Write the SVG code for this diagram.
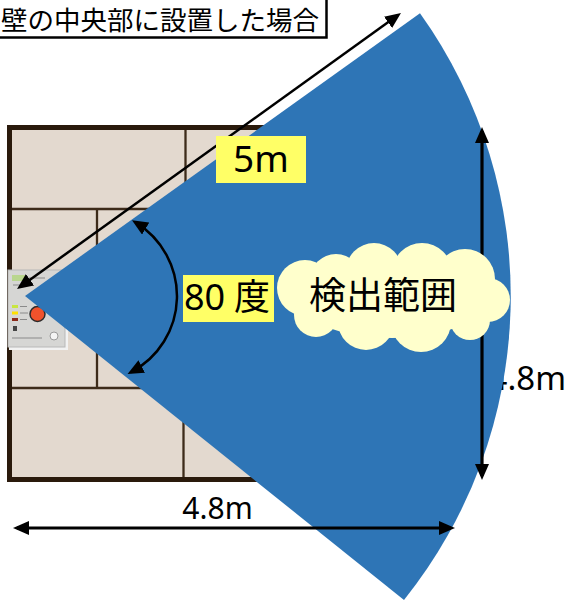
<svg xmlns="http://www.w3.org/2000/svg" width="569" height="600" viewBox="0 0 569 600">
  <defs>
    <style>
      .txt { font-family: "Noto Sans", "Noto Sans CJK JP", sans-serif; fill: #000; }
      .jp { font-family: "Noto Sans CJK JP", "Noto Sans", sans-serif; fill: #000; }
      .tile { stroke: #3d2b1a; stroke-width: 2.3; fill: none; }
      .dim { stroke: #000; stroke-width: 3.2; fill: none; marker-start: url(#ah); marker-end: url(#ah); }
      .thin { stroke: #000; stroke-width: 2.5; fill: none; marker-start: url(#ah); marker-end: url(#ah); }
      .tag { fill: #FFFF66; }
      .cloud { fill: #FFFFCC; }
      .mark { stroke: #8a8a8a; stroke-width: 1; }
    </style>
    <marker id="ah" viewBox="0 0 16 14" markerWidth="16" markerHeight="14" refX="12" refY="7" orient="auto-start-reverse" markerUnits="userSpaceOnUse">
      <path d="M0,0 L16,7 L0,14 z" fill="#000"/>
    </marker>
  </defs>

  <!-- room floor plan -->
  <g id="room">
    <rect x="9.5" y="127.5" width="445" height="352" fill="#E3D9CF" stroke="#2a1a0c" stroke-width="5"/>
    <line class="tile" x1="12" y1="209" x2="452" y2="209"/>
    <line class="tile" x1="185.5" y1="130" x2="185.5" y2="209"/>
    <line class="tile" x1="97" y1="209" x2="97" y2="388"/>
    <line class="tile" x1="12" y1="388" x2="452" y2="388"/>
    <line class="tile" x1="183.5" y1="388" x2="183.5" y2="477"/>
  </g>

  <!-- sensor panel mounted on the wall -->
  <g id="sensor">
    <rect x="9" y="271" width="59" height="79" fill="#f2f2f2"/>
    <rect x="8" y="270" width="57" height="77" fill="#d6d6d4" stroke="#b8b8b8" stroke-width="1"/>
    <rect x="12" y="275" width="13" height="6" fill="#b9d68e"/>
    <line class="mark" x1="27" y1="278" x2="45" y2="278"/>
    <line class="mark" x1="13" y1="285" x2="24" y2="285"/>
    <rect x="12" y="305" width="6" height="3" fill="#c8e640"/>
    <rect x="12" y="311.5" width="6" height="3" fill="#ffe000"/>
    <rect x="12" y="318" width="6" height="3" fill="#8b2a1a"/>
    <line class="mark" x1="20" y1="306.5" x2="27" y2="306.5"/>
    <line class="mark" x1="20" y1="313" x2="28" y2="313"/>
    <line class="mark" x1="20" y1="319.5" x2="27" y2="319.5"/>
    <circle cx="37.5" cy="314" r="7.5" fill="#f0522c" stroke="#2b2b2b" stroke-width="1.5"/>
    <rect x="13" y="326" width="4" height="5" fill="#444"/>
    <line class="mark" x1="12" y1="338" x2="42" y2="338"/>
    <circle cx="54" cy="336" r="4" fill="#f4f4f4" stroke="#9a9a9a" stroke-width="1"/>
  </g>

  <!-- right-hand dimension text, partly hidden by the detection area -->
  <text class="txt" x="566" y="390" font-size="33" text-anchor="end">4.8m</text>

  <!-- detection area sector -->
  <g id="area">
    <path d="M25,296 L420,13.3 A486,486 0 0 1 404,600 Z" fill="#2E75B6"/>
  </g>

  <!-- dimension and angle arrows -->
  <g id="connectors">
    <line class="thin" x1="20.25" y1="286.7" x2="397.75" y2="15.33"/>
    <path class="thin" d="M135.4,222.4 A86,86 0 0 1 131.1,372.1"/>
    <line class="dim" x1="482" y1="131" x2="482" y2="476"/>
    <line class="dim" x1="17" y1="528" x2="451" y2="528"/>
  </g>

  <!-- labels -->
  <g id="label-5m">
    <rect class="tag" x="216" y="136" width="90" height="47"/>
    <text class="txt" x="261" y="172" font-size="37" text-anchor="middle">5m</text>
  </g>

  <g id="label-angle">
    <rect class="tag" x="183" y="275" width="91" height="47"/>
    <text class="txt" x="184" y="310" font-size="36">80<tspan x="234">度</tspan></text>
  </g>

  <g id="label-width">
    <text class="txt" x="217.5" y="519" font-size="30" text-anchor="middle">4.8m</text>
  </g>

  <g id="cloud">
    <g class="cloud">
      <circle cx="305" cy="288" r="28"/>
      <circle cx="336" cy="280" r="26"/>
      <circle cx="374" cy="271" r="28"/>
      <circle cx="422" cy="273" r="30"/>
      <circle cx="465" cy="279" r="30"/>
      <circle cx="488" cy="300" r="22"/>
      <circle cx="470" cy="320" r="20"/>
      <circle cx="421" cy="322" r="30"/>
      <circle cx="366" cy="322" r="28"/>
      <circle cx="316" cy="315" r="22"/>
      <ellipse cx="392" cy="298" rx="95" ry="40"/>
    </g>
    <text class="jp" x="383" y="309" font-size="37" text-anchor="middle">検出範囲</text>
  </g>

  <g id="title">
    <rect x="-5" y="-5" width="331.5" height="42.5" fill="#fff" stroke="#000" stroke-width="2.5"/>
    <text class="jp" x="1" y="29.5" font-size="26.5">壁の中央部に設置した場合</text>
  </g>
</svg>
